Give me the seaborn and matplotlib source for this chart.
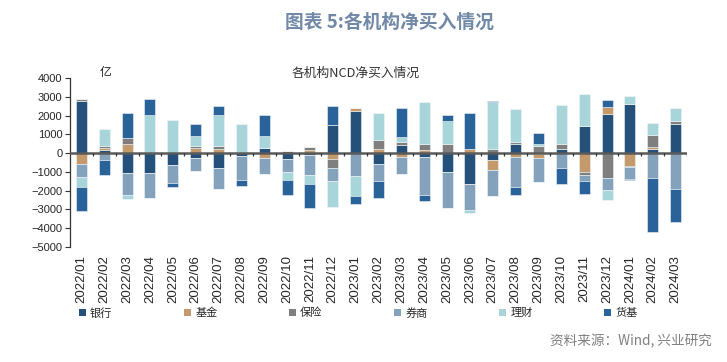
import numpy as np
import pandas as pd
import matplotlib
matplotlib.use("Agg")
import matplotlib.pyplot as plt
import seaborn as sns
from matplotlib.patches import Patch

# 月份
months = ['2022/01', '2022/02', '2022/03', '2022/04', '2022/05', '2022/06', '2022/07', '2022/08', '2022/09',
          '2022/10', '2022/11', '2022/12', '2023/01', '2023/02', '2023/03', '2023/04', '2023/05', '2023/06',
          '2023/07', '2023/08', '2023/09', '2023/10', '2023/11', '2023/12', '2024/01', '2024/02', '2024/03']

# 各机构净买入 (亿)
bank = [2770, 180, -1070, -1050, -620, -270, -800, -180, 270, -300, -100, 1520, 2250, -570,
        410, -210, -1020, -1640, -390, 460, -60, 230, 1430, 2070, 2590, 200, 1540]
fund = [-570, 100, 460, 0, 0, 270, 230, 0, -270, 0, 140, -340, 140, 230,
        -230, 140, 0, 230, -500, -210, -200, 0, -1020, 390, -710, 100, 0]
insurance = [100, 100, 360, 0, 0, 90, 140, 0, 0, 120, 180, -450, 0, 450,
             160, 320, 460, 0, 230, 110, 360, 230, -120, -1320, -50, 680, 180]
broker = [-720, -390, -1160, -1360, -960, -660, -1100, -1230, -840, -680, -1050, -680, -1200, -910,
          -870, -2000, -1880, -1390, -1410, -1570, -1300, -800, -360, -630, -610, -1320, -1910]
wmp = [-500, 900, -210, 2020, 1750, 540, 1640, 1570, 620, -430, -480, -1390, -1110, 1460,
       290, 2270, 1250, -160, 2500, 1800, 140, 2090, 1700, -550, 460, 640, 660]
mmf = [-1280, -770, 1340, 860, -250, 625, 480, -360, 1160, -800, -1290, 980, -410, -930,
       1520, -360, 300, 1880, 50, -450, 590, -870, -680, 390, -70, -2880, -1750]

names = ['银行', '基金', '保险', '券商', '理财', '货基']
colors = ['#25507a', '#c49a6c', '#7f7f7f', '#84a2bb', '#a8d5da', '#2a6399']

df = pd.DataFrame({'银行': bank, '基金': fund, '保险': insurance,
                   '券商': broker, '理财': wmp, '货基': mmf}, index=months)

sns.set_style("white")
plt.rcParams['font.family'] = ['Liberation Sans', 'Noto Sans CJK SC']
cjk = ['Noto Sans CJK SC', 'DejaVu Sans']

fig = plt.figure(figsize=(7.27, 3.62), dpi=100)
ax = fig.add_axes([70 / 727, 1 - 247 / 362, 617 / 727, 169 / 362])

x = np.arange(len(months))
pos_base = np.zeros(len(months))
neg_base = np.zeros(len(months))
for name, c in zip(names, colors):
    v = df[name].values.astype(float)
    pos = np.where(v > 0, v, 0)
    neg = np.where(v < 0, v, 0)
    ax.bar(x, pos, bottom=pos_base, width=0.48, color=c, edgecolor='#eef3f6', linewidth=0.4, zorder=2)
    ax.bar(x, neg, bottom=neg_base, width=0.48, color=c, edgecolor='#eef3f6', linewidth=0.4, zorder=2)
    pos_base += pos
    neg_base += neg

# 零轴和分隔刻度
ax.axhline(0, color='#5a5a5a', lw=1.8, zorder=3)
ax.vlines(np.arange(len(months)) + 0.5, -180, 0, color='#333333', lw=0.9, zorder=3)

ax.set_xlim(-0.5, len(months) - 0.5)
ax.set_ylim(-5000, 4000)
ax.set_yticks(range(-5000, 4001, 1000))
ax.set_xticks(x)
ax.set_xticklabels(months, rotation=90, fontsize=9.5)
ax.tick_params(axis='x', length=0, pad=6)
ax.tick_params(axis='y', length=3.5, width=0.8, direction='out', left=True, labelsize=8, pad=2, color='#333333')
for s in ['top', 'right', 'bottom']:
    ax.spines[s].set_visible(False)
ax.spines['left'].set_color('#333333')
ax.spines['left'].set_linewidth(0.9)

ax.text(30 / 617, 1.03, '亿', transform=ax.transAxes, fontsize=8.5, family=cjk, va='center', color='#222222')
ax.text(286 / 617, 1.03, '各机构NCD净买入情况', transform=ax.transAxes, fontsize=9.2,
        family=cjk, ha='center', va='center', color='#333333')

fig.text(285 / 727, 1 - 22 / 362, '图表 5:各机构净买入情况', fontsize=13.5, fontweight='bold',
         family=cjk, color='#7189a6', ha='left', va='center')

handles = [Patch(facecolor=c, edgecolor='none') for c in colors]
fig.legend(handles, names, loc='center left', bbox_to_anchor=(79 / 727, 1 - 313 / 362), ncol=6,
           frameon=False, prop={'family': cjk, 'size': 8}, handlelength=0.65, handleheight=0.65,
           handletextpad=0.35, columnspacing=6.45, borderpad=0, borderaxespad=0)

fig.text(712 / 727, 1 - 341 / 362, '资料来源：Wind, 兴业研究', fontsize=9.8, family=cjk,
         color='#808080', ha='right', va='center')

fig.savefig('out.png', dpi=100)
